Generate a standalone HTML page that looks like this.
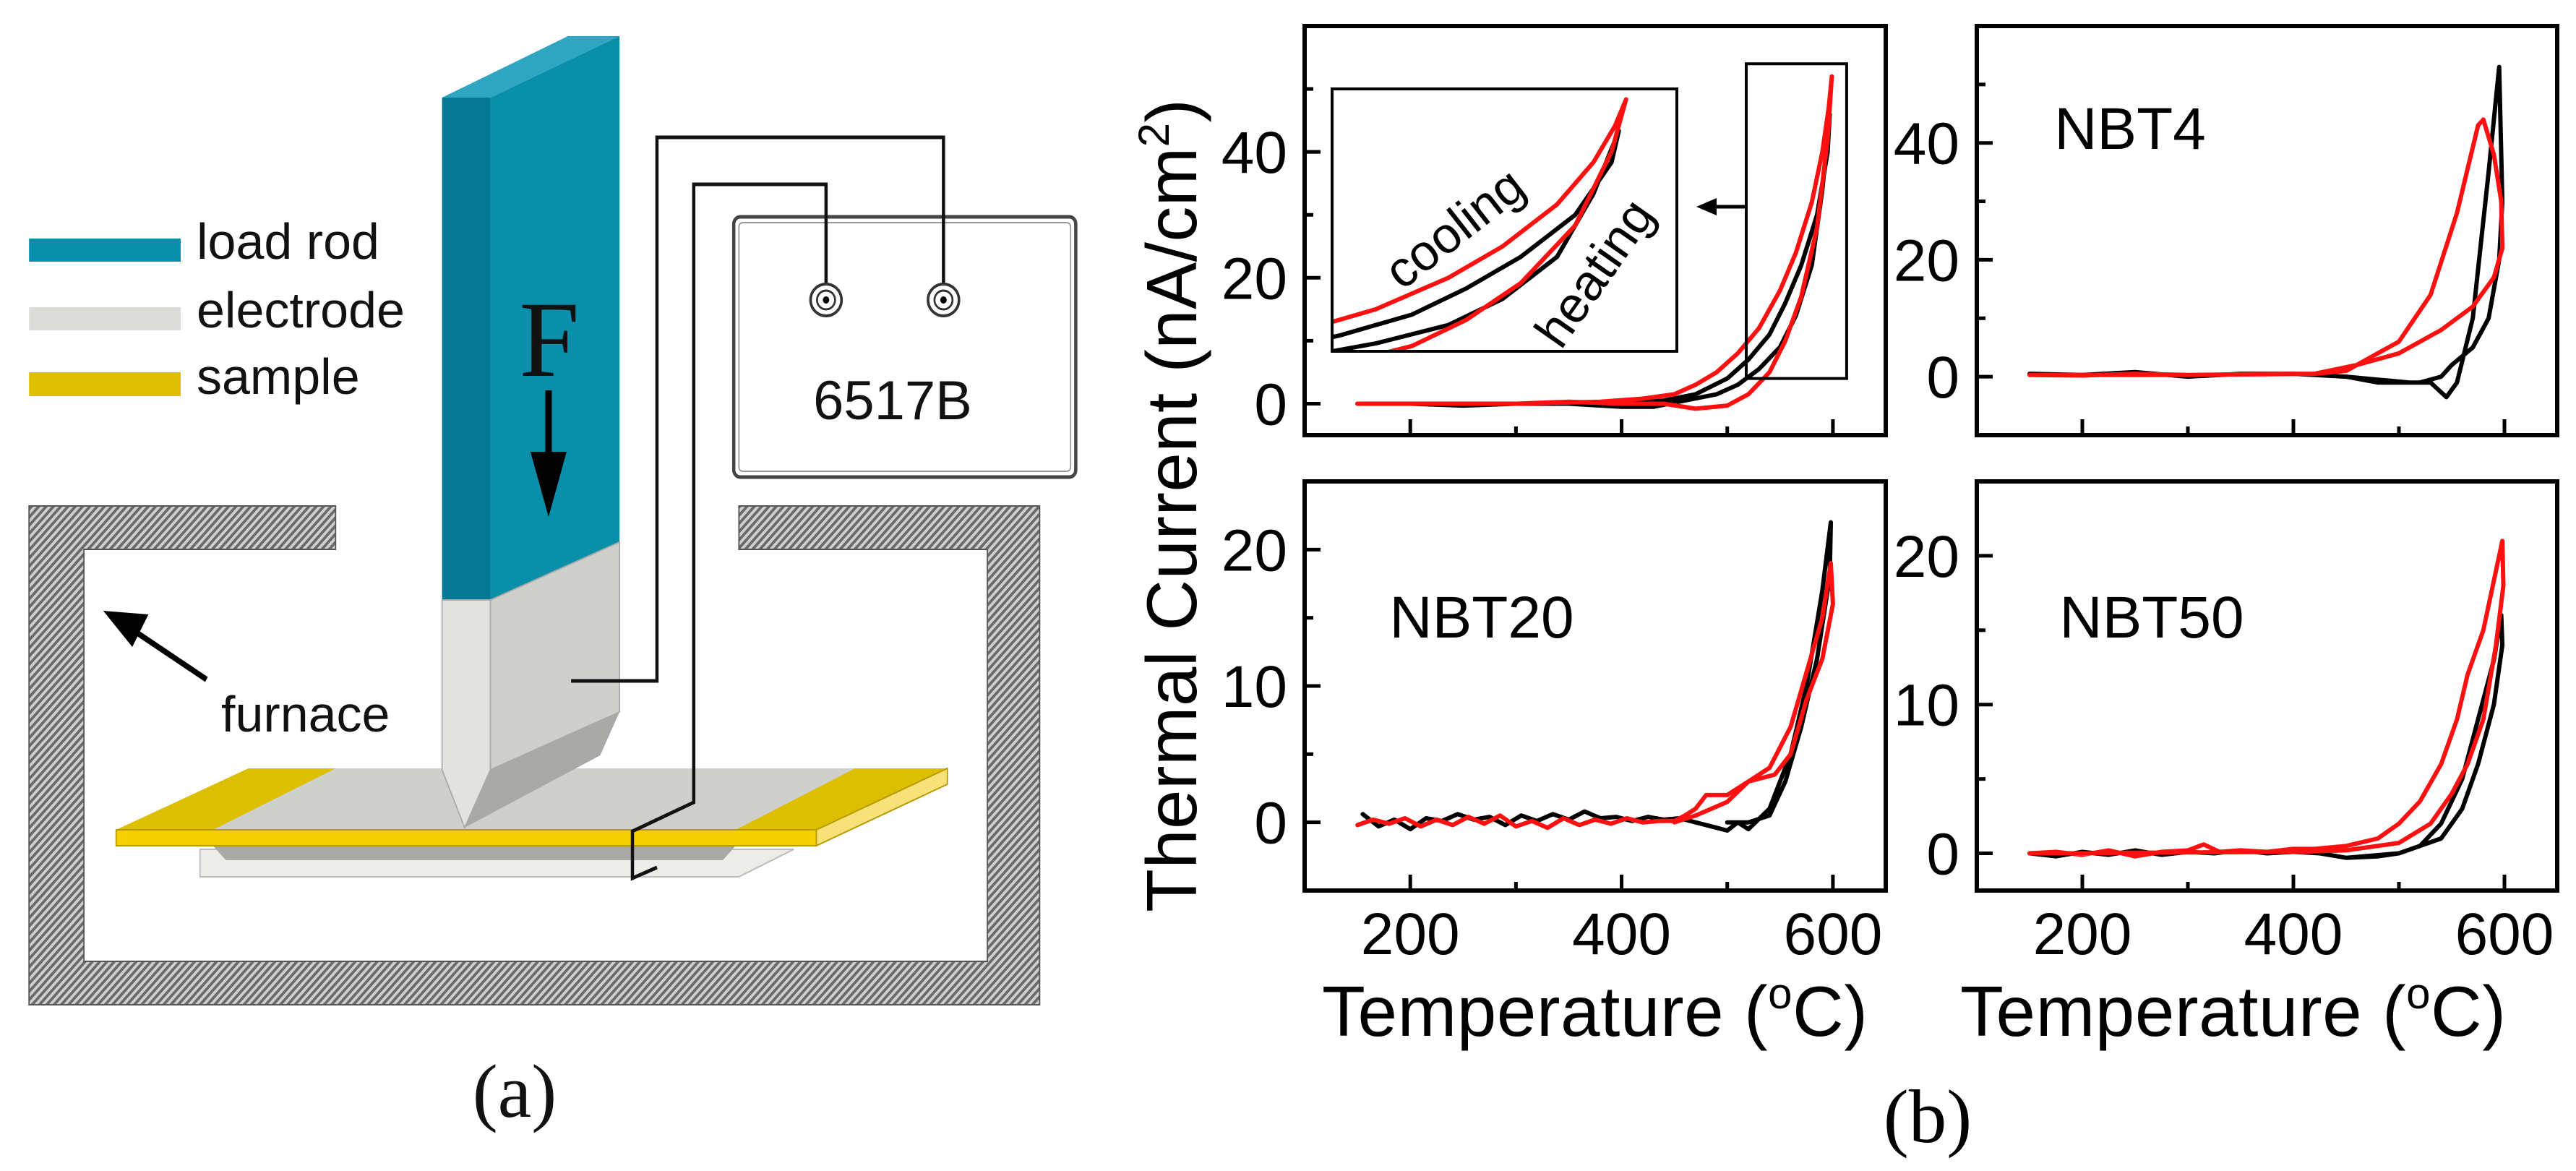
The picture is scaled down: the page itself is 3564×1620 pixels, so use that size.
<!DOCTYPE html>
<html><head><meta charset="utf-8"><style>
html,body{margin:0;padding:0;background:#fff;}
body{width:3564px;height:1620px;position:relative;overflow:hidden;font-family:"Liberation Sans",Arial,sans-serif;}
svg{position:absolute;left:0;top:0;}
</style></head><body>

<!-- (a) diagram shapes: stretched coordinate frame -->
<svg width="1500" height="1620" viewBox="0 0 1680 1620" preserveAspectRatio="none">
<defs>
<pattern id="hatch" width="8" height="8" patternUnits="userSpaceOnUse" patternTransform="rotate(45)">
<rect width="8" height="8" fill="#cfcfcf"/><rect width="4" height="8" fill="#6a6a6a"/></pattern>
</defs>
<path d="M45,700 H520 V760 H130 V1330 H1530 V760 H1145 V700 H1611 V1390 H45 Z" fill="url(#hatch)" stroke="#555" stroke-width="2"/>
<rect x="45" y="330" width="235" height="32" fill="#0a8fab"/>
<rect x="45" y="425" width="235" height="32" fill="#dcdcd8"/>
<rect x="45" y="515" width="235" height="33" fill="#dfc000"/>
<rect x="1137" y="300" width="530" height="360" rx="10" fill="#fff" stroke="#444" stroke-width="5"/>
<rect x="1145" y="308" width="514" height="344" rx="6" fill="none" stroke="#999" stroke-width="2"/>
<polygon points="310,1175 1230,1175 1145,1213 310,1213" fill="#ecece9" stroke="#bbb" stroke-width="2"/>
<polygon points="330,1170 1140,1170 1120,1190 350,1190" fill="#a9a9a7"/>
<polygon points="180,1148 385,1063 1468,1063 1265,1148" fill="#cfcfcb"/>
<polygon points="180,1148 385,1063 520,1063 330,1148" fill="#dcbf00"/>
<polygon points="1140,1148 1325,1063 1468,1063 1265,1148" fill="#dcbf00"/>
<rect x="180" y="1148" width="1085" height="22" fill="#f5cf00" stroke="#b89a00" stroke-width="2"/>
<polygon points="1265,1148 1468,1063 1468,1085 1265,1170" fill="#f7e27a" stroke="#b89a00" stroke-width="2"/>
<g>
<polygon points="685,135 880,50 960,50 760,135" fill="#2ea6c2"/>
<polygon points="685,135 760,135 760,830 685,830" fill="#047892"/>
<polygon points="760,135 960,50 960,750 760,830" fill="#0a8fab"/>
<polygon points="685,830 760,830 760,1065 720,1145 685,1065" fill="#e2e2df" stroke="#aaa" stroke-width="2"/>
<polygon points="760,830 960,750 960,985 760,1065" fill="#cfcfcb" stroke="#aaa" stroke-width="2"/>
<polygon points="760,1065 960,985 930,1045 720,1145" fill="#a9a9a7"/>
</g>
<g fill="none" stroke="#111" stroke-width="5">
<polyline points="885,942 1018,942 1018,190 1462,190 1462,415"/>
<polyline points="1280,415 1280,255 1075,255 1075,1110 980,1150 980,1215 1018,1200"/>
</g>
<g>
<ellipse cx="1280" cy="415" rx="24" ry="22" fill="#fff" stroke="#333" stroke-width="4"/><ellipse cx="1280" cy="415" rx="14" ry="13" fill="none" stroke="#333" stroke-width="3"/><circle cx="1280" cy="415" r="5" fill="#000"/>
<ellipse cx="1462" cy="415" rx="24" ry="22" fill="#fff" stroke="#333" stroke-width="4"/><ellipse cx="1462" cy="415" rx="14" ry="13" fill="none" stroke="#333" stroke-width="3"/><circle cx="1462" cy="415" r="5" fill="#000"/>
</g>
<line x1="850" y1="540" x2="850" y2="650" stroke="#000" stroke-width="10"/>
<polygon points="822,625 878,625 850,715" fill="#000"/>
<line x1="320" y1="940" x2="200" y2="868" stroke="#000" stroke-width="8"/>
<polygon points="160,845 230,850 205,895" fill="#000"/>
</svg>

<svg width="1500" height="1620" viewBox="0 0 1500 1620">
<g font-family="Liberation Sans, Arial, sans-serif" font-size="70" fill="#111">
<text x="272" y="358">load rod</text>
<text x="272" y="453">electrode</text>
<text x="272" y="545">sample</text>
<text x="306" y="1012">furnace</text>
<text x="1235" y="580" font-size="76" text-anchor="middle">6517B</text>
</g>
<text x="760" y="520" font-family="Liberation Serif, serif" font-size="150" text-anchor="middle" fill="#111">F</text>
<text x="712" y="1545" font-family="Liberation Serif, serif" font-size="105" text-anchor="middle" fill="#111">(a)</text>
</svg>

<svg id="chart" width="3564" height="1620" viewBox="0 0 3564 1620" style="pointer-events:none"></svg>

<script>
const nbtBlackT = [150,200,250,300,350,400,430,460,490,510,530,550,565,580,590,597,595,585,570,555,540,520,500,470,440,400];
const nbtBlackI = [0,0,-0.3,0,0,-0.5,-0.5,0.5,1.5,3,5.5,9,14,22,34,46,40,30,22,16,11,7,4,1.5,0.5,0];
const nbtRedT = [150,200,250,300,350,400,440,470,500,520,540,555,570,585,595,599,596,590,580,565,550,530,510,490,470,450,420,380,300,150];
const nbtRedI = [0,0,0,0,0.3,0,0,-0.8,-0.3,1.5,5,10,17,28,42,52,47,40,32,24,18,12,8,5,3,1.5,0.8,0.3,0,0];

const nbt4BlackT = [150,200,250,300,350,400,450,480,510,530,545,555,570,585,595,598,595,585,570,550,540,520,480,450];
const nbt4BlackI = [0.5,0.3,0.8,0,0.5,0.5,0,-0.5,-1,-1,-3.5,-1,10,35,53,30,20,10,5,2,0,-1,-1,0];
const nbt4RedT = [150,200,250,300,350,400,420,450,500,530,555,575,580,590,597,598,590,570,540,500,460,420,300,150];
const nbt4RedI = [0.3,0.2,0.5,0.3,0.4,0.5,0.5,1,6,14,28,43,44,38,30,22,17,12,8,4,2,0.5,0.3,0.3];

const nbt20BlackT = [155,170,185,200,215,230,245,260,275,290,305,320,335,350,365,380,395,410,425,440,455,470,485,500,510,520,540,560,575,590,598,597,585,570,555,540,520,500];
const nbt20BlackI = [0.6,-0.3,0.2,-0.5,0.3,0.1,0.6,0.2,0.4,-0.2,0.5,0.1,0.6,0.2,0.8,0.3,0.4,0.1,0.4,0.2,0.3,0,-0.3,-0.6,0,-0.5,1,5,10,17,22,18,12,7,3,0.5,0,0];
const nbt20RedT = [150,165,180,195,210,225,240,255,270,285,300,315,330,345,360,375,390,405,420,435,450,460,470,480,500,520,540,560,575,590,598,600,590,575,560,545,520,500,470,450];
const nbt20RedI = [-0.2,0.2,-0.1,0.3,-0.3,0.2,-0.2,0.4,-0.1,0.5,-0.3,0.1,-0.4,0.3,-0.2,0.2,-0.1,0.3,0,0.1,0.1,0.5,1,2,2,3,4,7,11,15,19,16,12,9,5,3.5,3,1.5,0.5,0];

const nbt50BlackT = [150,175,200,225,250,275,300,325,350,375,400,425,450,480,500,520,540,560,575,590,597,598,590,575,560,540,500,450];
const nbt50BlackI = [0,-0.2,0.1,-0.1,0.2,-0.1,0.1,0,0.2,0,0.1,0,-0.3,-0.2,0,0.5,2,5,9,13,16,14,10,6,3,1,0,-0.3];
const nbt50RedT = [150,175,200,225,250,275,300,315,330,350,375,400,420,450,480,500,520,540,555,565,580,592,598,599,592,580,565,550,530,500,450,400,150];
const nbt50RedI = [0,0.1,-0.1,0.2,-0.2,0.1,0.2,0.6,0.1,0.2,0.1,0.3,0.3,0.5,1,2,3.5,6,9,12,15,19,21,18,14,9,6,4,2,0.7,0.2,0.1,0];

const xTicks = [200,400,600];
const ticksNBT = [0,20,40];
const ticksNBT4 = [0,20,40];
const ticksLow = [0,10,20];

const NS = "http://www.w3.org/2000/svg";
const svg = document.getElementById('chart');
function mk(tag, attrs, parent){ const e=document.createElementNS(NS,tag); for(const k in attrs) e.setAttribute(k,attrs[k]); (parent||svg).appendChild(e); return e; }

function panel(cfg){
  const g = mk('g',{});
  
  
  const L=cfg.x0,R=cfg.x1,T=cfg.y0,B=cfg.y1;
  const sx = v => L + (v-100)/(650-100)*(R-L);
  const sy = v => B - (v-cfg.ymin)/(cfg.ymax-cfg.ymin)*(B-T);
  for(let v=200; v<=650; v+=100){
    const major = xTicks.includes(v);
    const t = mk('line',{x1:sx(v),x2:sx(v),y1:B,y2:B-(major?22:12),stroke:'#000','stroke-width':5},g);
    
    
    if(major && cfg.xlabels){
      const tl = mk('text',{x:sx(v),y:B+88,'font-size':82,'text-anchor':'middle',fill:'#000'},g);
      tl.textContent=v;
      
      
    }
  }
  const step = cfg.yticks[1]-cfg.yticks[0];
  for(let v=Math.ceil(cfg.ymin/(step/2))*(step/2); v<=cfg.ymax; v+=step/2){
    if(sy(v)<T+3||sy(v)>B-3) continue;
    const major = cfg.yticks.includes(v);
    const t = mk('line',{x1:L,x2:L+(major?22:12),y1:sy(v),y2:sy(v),stroke:'#000','stroke-width':5},g);
    
    
    if(major){
      const tl = mk('text',{x:L-24,y:sy(v)+29,'font-size':82,'text-anchor':'end',fill:'#000'},g);
      tl.textContent=v;
      
      
    }
  }
  const series=(Tarr,Iarr,color,nm,fx,fy,parent)=>{
    const pts = Tarr.map((t,i)=>fx(t).toFixed(1)+','+fy(Iarr[i]).toFixed(1)).join(' ');
    const p = mk('polyline',{points:pts,fill:'none',stroke:color,'stroke-width':6,'stroke-linejoin':'round','stroke-linecap':'round'},parent||g);
    
    
  };
  series(cfg.bT,cfg.bI,'#000',cfg.name+'-heating-line',sx,sy);
  series(cfg.rT,cfg.rI,'#ff1010',cfg.name+'-cooling-line',sx,sy);
  const fr = mk('rect',{x:L,y:T,width:R-L,height:B-T,fill:'none',stroke:'#000','stroke-width':6},g);
  
  
  const lb = mk('text',{x:cfg.lx,y:cfg.ly,'font-size':82,'text-anchor':'middle',fill:'#000'},g);
  lb.textContent=cfg.label;
  
  
  if(cfg.inset){
    const ix0=1843,ix1=2320,iy0=123,iy1=486;
    const t0=518,t1=613,i0=4,i1=54;
    const fx=v=>ix0+(v-t0)/(t1-t0)*(ix1-ix0), fy=v=>iy1-(v-i0)/(i1-i0)*(iy1-iy0);
    const cp = mk('clipPath',{id:'insetclip'},g); mk('rect',{x:ix0,y:iy0,width:ix1-ix0,height:iy1-iy0},cp);
    const ig = mk('g',{'clip-path':'url(#insetclip)'},g);
    
    
    mk('rect',{x:ix0,y:iy0,width:ix1-ix0,height:iy1-iy0,fill:'#fff'},ig);
    series(cfg.bT,cfg.bI,'#000','inset-heating-line',fx,fy,ig);
    series(cfg.rT,cfg.rI,'#ff1010','inset-cooling-line',fx,fy,ig);
    const ib = mk('rect',{x:ix0,y:iy0,width:ix1-ix0,height:iy1-iy0,fill:'none',stroke:'#000','stroke-width':4},g);
    
    
    const zr = mk('rect',{x:sx(t0),y:sy(i1),width:sx(t1)-sx(t0),height:sy(i0)-sy(i1),fill:'none',stroke:'#000','stroke-width':4},g);
    
    
    const ay = sy((i0+i1)/2)-20;
    const al = mk('line',{x1:sx(t0),y1:ay,x2:2370,y2:ay,stroke:'#000','stroke-width':5},g);
    
    
    mk('polygon',{points:`2347,${ay} 2375,${ay-12} 2375,${ay+12}`,fill:'#000'},g);
    const c = mk('text',{x:2011,y:340,'font-size':70,'text-anchor':'middle',transform:'rotate(-38 2011 314)',fill:'#000'},g);
    c.textContent='cooling';
    
    
    const h = mk('text',{x:2205,y:402,'font-size':70,'text-anchor':'middle',transform:'rotate(-55 2205 377)',fill:'#000'},g);
    h.textContent='heating';
    
    
  }
}
svg.setAttribute('font-family','Liberation Sans, Arial, sans-serif');
panel({name:'nbt-panel',x0:1805,x1:2609,y0:36,y1:602,ymin:-5,ymax:60,yticks:ticksNBT,bT:nbtBlackT,bI:nbtBlackI,rT:nbtRedT,rI:nbtRedI,label:'NBT',lx:2011,ly:206,inset:true});
panel({name:'nbt4-panel',x0:2735,x1:3538,y0:36,y1:602,ymin:-10,ymax:60,yticks:ticksNBT4,bT:nbt4BlackT,bI:nbt4BlackI,rT:nbt4RedT,rI:nbt4RedI,label:'NBT4',lx:2947,ly:206});
panel({name:'nbt20-panel',x0:1805,x1:2609,y0:666,y1:1232,ymin:-5,ymax:25,yticks:ticksLow,bT:nbt20BlackT,bI:nbt20BlackI,rT:nbt20RedT,rI:nbt20RedI,label:'NBT20',lx:2050,ly:882,xlabels:true});
panel({name:'nbt50-panel',x0:2735,x1:3538,y0:666,y1:1232,ymin:-2.5,ymax:25,yticks:ticksLow,bT:nbt50BlackT,bI:nbt50BlackI,rT:nbt50RedT,rI:nbt50RedI,label:'NBT50',lx:2977,ly:882,xlabels:true});

function txt(attrs, content, name){
  const t = mk('text', attrs);
  t.innerHTML = content;
  
  
}
txt({x:1829,y:1433,'font-size':98,fill:'#000',textLength:755}, 'Temperature (<tspan font-size="60" dy="-38">o</tspan><tspan dy="38">C)</tspan>', 'x-axis-title-left');
txt({x:2712,y:1433,'font-size':98,fill:'#000',textLength:755}, 'Temperature (<tspan font-size="60" dy="-38">o</tspan><tspan dy="38">C)</tspan>', 'x-axis-title-right');
txt({x:0,y:0,'font-size':98,fill:'#000',transform:'translate(1655,1262) rotate(-90)',textLength:1125}, 'Thermal Current (nA/cm<tspan font-size="60" dy="-38">2</tspan><tspan dy="38">)</tspan>', 'y-axis-title');
txt({x:2667,y:1580,'font-size':105,'font-family':'Liberation Serif, serif','text-anchor':'middle',fill:'#000'}, '(b)', 'panel-b-label');
</script>
</body></html>
